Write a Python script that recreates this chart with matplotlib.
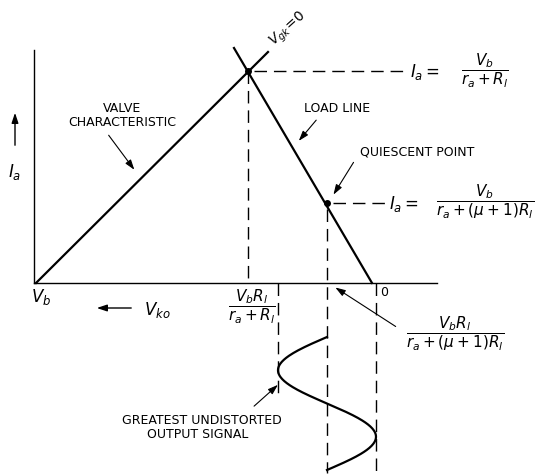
import numpy as np
import matplotlib.pyplot as plt
from matplotlib import font_manager

# diagram coordinates (x to the right, y downwards, same scale as the page)
axis_x = 34
axis_top = 50
axis_y = 283
axis_right = 437

valve_x = [36, 268]
valve_y = [283, 52]

load_x = [234, 372]
load_y = [48, 283]

peak = (248, 71)
quiescent = (327, 203)
zero_x = 376

# output signal: centre line, swing and one period down the page
sig_centre = 327
sig_swing = 49
sig_top = 337
sig_period = 133

names = [f.name for f in font_manager.fontManager.ttflist]
label_font = 'Liberation Sans Narrow' if 'Liberation Sans Narrow' in names else 'DejaVu Sans'
plt.rcParams['mathtext.fontset'] = 'dejavusans'

fig = plt.figure(figsize=(5.35, 4.75), dpi=100)
ax = fig.add_axes([0, 0, 1, 1])
ax.set_xlim(0, 535)
ax.set_ylim(475, 0)
ax.axis('off')

# axes
ax.plot([axis_x, axis_x], [axis_top, axis_y], color='black', lw=1)
ax.plot([axis_x, axis_right], [axis_y, axis_y], color='black', lw=1)

# valve characteristic and load line
ax.plot(valve_x, valve_y, color='black', lw=1.6)
ax.plot(load_x, load_y, color='black', lw=1.6)
ax.plot(*peak, 'o', color='black', ms=4)
ax.plot(*quiescent, 'o', color='black', ms=4)

dash = dict(color='black', lw=1, linestyle=(0, (9, 5)))
ax.plot([peak[0], peak[0]], [peak[1], axis_y], **dash)
ax.plot([peak[0] + 6, 408], [peak[1], peak[1]], **dash)
ax.plot([quiescent[0] + 6, 387], [quiescent[1], quiescent[1]], **dash)
ax.plot([quiescent[0], quiescent[0]], [quiescent[1] + 6, 473], **dash)
ax.plot([zero_x, zero_x], [axis_y, 473], **dash)
ax.plot([sig_centre - sig_swing] * 2, [axis_y, 398], **dash)

# output signal
t = np.linspace(sig_top, sig_top + sig_period, 200)
ax.plot(sig_centre - sig_swing * np.sin(2 * np.pi * (t - sig_top) / sig_period), t,
        color='black', lw=1.6)

# labels
cap = dict(fontsize=9, family=label_font, ha='center', va='center')
arrow = dict(arrowstyle='-|>,head_length=0.6,head_width=0.2', color='black', lw=0.8)

ax.text(122, 108, 'VALVE', **cap)
ax.text(122, 122, 'CHARACTERISTIC', **cap)
ax.annotate('', xy=(136, 172), xytext=(107, 133), arrowprops=arrow)

ax.text(337, 108, 'LOAD LINE', **cap)
ax.annotate('', xy=(297, 143), xytext=(318, 118), arrowprops=arrow)

ax.text(417, 152, 'QUIESCENT POINT', **cap)
ax.annotate('', xy=(332, 197), xytext=(355, 160), arrowprops=arrow)

ax.text(202, 420, 'GREATEST UNDISTORTED', **cap)
ax.text(198, 434, 'OUTPUT SIGNAL', **cap)
ax.annotate('', xy=(280, 383), xytext=(252, 408), arrowprops=arrow)

ax.text(272, 44, r'$V_{gk}\!=\!0$', fontsize=10, rotation=42, rotation_mode='anchor',
        ha='left', va='center')

ax.annotate('', xy=(15, 110), xytext=(15, 148),
            arrowprops=dict(arrowstyle='-|>,head_length=0.6,head_width=0.2', color='black', lw=1))
ax.text(15, 172, r'$I_a$', fontsize=12, ha='center', va='center')

ax.text(41, 297, r'$V_b$', fontsize=12, ha='center', va='center')
ax.annotate('', xy=(94, 308), xytext=(134, 308),
            arrowprops=dict(arrowstyle='-|>,head_length=0.6,head_width=0.2', color='black', lw=1))
ax.text(157, 310, r'$V_{ko}$', fontsize=12, ha='center', va='center')
ax.text(384, 293, '0', fontsize=9, family=label_font, ha='center', va='center')

frac = dict(fontsize=11, ha='center', va='center')
ax.text(252, 307, r'$\dfrac{V_b R_l}{r_a + R_l}$', **frac)
ax.text(455, 334, r'$\dfrac{V_b R_l}{r_a + (\mu + 1) R_l}$', **frac)
ax.annotate('', xy=(333, 286), xytext=(398, 328), arrowprops=arrow)

ax.text(410, 72, r'$I_a =$', fontsize=12, ha='left', va='center')
ax.text(485, 71, r'$\dfrac{V_b}{r_a + R_l}$', **frac)
ax.text(389, 204, r'$I_a =$', fontsize=12, ha='left', va='center')
ax.text(485, 202, r'$\dfrac{V_b}{r_a + (\mu + 1) R_l}$', **frac)

fig.savefig('out.png', dpi=100, facecolor='white')
